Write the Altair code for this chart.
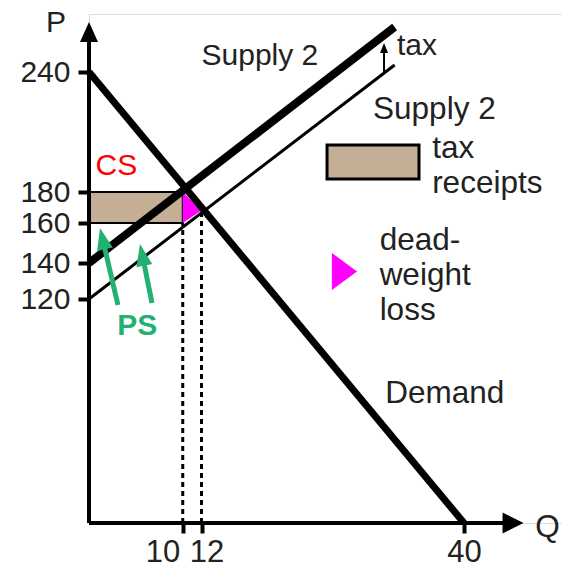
import altair as alt
import pandas as pd

# ---------------- data ----------------
demand_q = [0, 40]
demand_p = [240, 0]
supply_tax_q = [0, 32.6]          # "Supply 2" (with tax, thick)
supply_tax_p = [140, 262.5]
supply_q = [0, 32.6]              # original supply (thin)
supply_p = [120, 243.5]
receipts_q = [0, 10]
receipts_p = [160, 180]
dwl_q = [10, 12]
dwl_hi = [180, 168]
dwl_lo = [160, 168]
dotted_q = [10, 12]
dotted_p = [160, 168]
qty_ticks = [10, 12, 40]
price_ticks = [120, 140, 160, 180, 240]

TAN = "#c4ae95"
MAGENTA = "#ff00ff"
GREEN = "#22b170"
TXT = "#222222"
FONT = "Liberation Sans"

xs = alt.Scale(domain=[0, 40], range=[0, 375], nice=False, zero=False)
ys = alt.Scale(domain=[0, 120, 140, 160, 180, 240],
               range=[509, 285, 249, 209, 178, 58], nice=False, zero=False)

xaxis = alt.Axis(values=qty_ticks, domain=False, grid=False, ticks=True, tickSize=10,
                 tickWidth=4, tickColor="black", labelFontSize=31, labelFont=FONT,
                 labelColor=TXT, labelPadding=4, labelOverlap=False, labelFlush=False,
                 labelAlign={"expr": "datum.value == 10 ? 'right' : 'center'"},
                 labelOffset={"expr": "datum.value == 10 ? -3 : datum.value == 12 ? 5 : 0"},
                 title=None)
yaxis = alt.Axis(values=price_ticks, domain=False, grid=False, ticks=True, tickSize=11,
                 tickWidth=4, tickColor="black", labelFontSize=30, labelFont=FONT,
                 labelColor=TXT, labelPadding=8, labelOverlap=False, labelFlush=False,
                 title=None)


def X(f):
    return alt.X(f, type="quantitative", scale=xs, axis=xaxis)


def Y(f):
    return alt.Y(f, type="quantitative", scale=ys, axis=yaxis)


# tax receipts rectangle
rect_df = pd.DataFrame({"q0": [receipts_q[0]], "q1": [receipts_q[1]],
                        "p0": [receipts_p[0]], "p1": [receipts_p[1]]})
rect = alt.Chart(rect_df).mark_rect(fill=TAN, stroke="black", strokeWidth=2).encode(
    x=X("q0"), x2=alt.X2("q1"), y=Y("p0"), y2=alt.Y2("p1"))

# dead-weight loss triangle
dwl_df = pd.DataFrame({"q": dwl_q, "hi": dwl_hi, "lo": dwl_lo})
dwl = alt.Chart(dwl_df).mark_area(color=MAGENTA, opacity=1).encode(
    x=X("q"), y=Y("hi"), y2=alt.Y2("lo"))

# dotted drop lines
dot_df = pd.DataFrame({"q": dotted_q, "p": dotted_p, "z": [0, 0]})
dots = alt.Chart(dot_df).mark_rule(color="black", strokeWidth=3, strokeDash=[5, 4]).encode(
    x=X("q"), y=Y("z"), y2=alt.Y2("p"))


def line(q, p, w):
    df = pd.DataFrame({"q": q, "p": p})
    return alt.Chart(df).mark_line(color="black", strokeWidth=w).encode(x=X("q"), y=Y("p"))


supply_line = line(supply_q, supply_p, 3)
supply_tax_line = line(supply_tax_q, supply_tax_p, 8)
demand_line = line(demand_q, demand_p, 7)

# axes lines with arrowheads
axis_df = pd.DataFrame({"q0": [0, 0], "q1": [0, 45.2], "p0": [0, 0], "p1": [258, 0]})
axis_lines = alt.Chart(axis_df).mark_rule(color="black", strokeWidth=4).encode(
    x=X("q0"), x2=alt.X2("q1"), y=Y("p0"), y2=alt.Y2("p1"))

up_head = "M 0 -1 L 0.9 1 L -0.9 1 Z"
right_head = "M 1 0 L -1 1 L -1 -1 Z"
yhead = alt.Chart(pd.DataFrame({"q": [0], "p": [260]})).mark_point(
    shape=up_head, size=400, filled=True, color="black", opacity=1).encode(x=X("q"), y=Y("p"))
xhead = alt.Chart(pd.DataFrame({"q": [45.23], "p": [0]})).mark_point(
    shape=right_head, size=441, filled=True, color="black", opacity=1).encode(x=X("q"), y=Y("p"))

# tax arrow between the two supply curves
tax_df = pd.DataFrame({"q": [31.47], "p0": [240], "p1": [250]})
tax_shaft = alt.Chart(tax_df).mark_rule(color="black", strokeWidth=2).encode(
    x=X("q"), y=Y("p0"), y2=alt.Y2("p1"))
tax_head = alt.Chart(pd.DataFrame({"q": [31.47], "p": [252]})).mark_point(
    shape="M 0 -1 L 0.8 1 L -0.8 1 Z", size=100, filled=True, color="black", opacity=1).encode(
    x=X("q"), y=Y("p"))

# legend items
leg_rect_df = pd.DataFrame({"q0": [25.39], "q1": [35.2], "p0": [186.5], "p1": [203.5]})
leg_rect = alt.Chart(leg_rect_df).mark_rect(fill=TAN, stroke="black", strokeWidth=3).encode(
    x=X("q0"), x2=alt.X2("q1"), y=Y("p0"), y2=alt.Y2("p1"))
leg_tri = alt.Chart(pd.DataFrame({"q": [27.25], "p": [135.3]})).mark_point(
    shape="M -0.68 -1 L 0.68 0 L -0.68 1 Z", size=1369, filled=True, color=MAGENTA,
    opacity=1).encode(x=X("q"), y=Y("p"))

# green PS arrows
ps_shaft_df = pd.DataFrame({"q0": [3.09, 6.72], "p0": [116.8, 117.9],
                            "q1": [1.66, 5.87], "p1": [147.75, 139.7]})
ps_shafts = alt.Chart(ps_shaft_df).mark_rule(color=GREEN, strokeWidth=5).encode(
    x=X("q0"), x2=alt.X2("q1"), y=Y("p0"), y2=alt.Y2("p1"))
ps_head_df = pd.DataFrame({"q": [1.44, 5.67], "p": [152.2, 144.1], "a": [347, 348.5]})
ps_heads = alt.Chart(ps_head_df).mark_point(
    shape="M 0 -1 L 0.73 1 L -0.73 1 Z", size=484, filled=True, color=GREEN, opacity=1).encode(
    x=X("q"), y=Y("p"), angle=alt.Angle("a:Q", scale=None))

# text annotations (31.5 px)
ann_text = ["Q", "Supply 2", "tax", "receipts", "dead-", "weight", "loss", "Demand"]
ann_q = [47.6, 30.3, 36.6, 36.6, 31.0, 31.0, 31.0, 31.6]
ann_p = [-7.5, 216.5, 197, 179.4, 146.5, 127.8, 108.75, 64.3]
ann_df = pd.DataFrame({"t": ann_text, "q": ann_q, "p": ann_p})
ann = alt.Chart(ann_df).mark_text(align="left", baseline="alphabetic", fontSize=31.5,
                                  font=FONT, color=TXT).encode(
    x=X("q"), y=Y("p"), text="t:N")

# text annotations (30 px)
ann2_text = ["P", "Supply 2", "tax"]
ann2_q = [-4.6, 12.0, 32.85]
ann2_p = [260, 243.5, 248.5]
ann2_df = pd.DataFrame({"t": ann2_text, "q": ann2_q, "p": ann2_p})
ann2 = alt.Chart(ann2_df).mark_text(align="left", baseline="alphabetic", fontSize=30,
                                    font=FONT, color=TXT).encode(
    x=X("q"), y=Y("p"), text="t:N")

cs = alt.Chart(pd.DataFrame({"t": ["CS"], "q": [0.7], "p": [188.5]})).mark_text(
    align="left", baseline="alphabetic", fontSize=30, font=FONT, color="#ff0000").encode(
    x=X("q"), y=Y("p"), text="t:N")
ps = alt.Chart(pd.DataFrame({"t": ["PS"], "q": [3.0], "p": [100.7]})).mark_text(
    align="left", baseline="alphabetic", fontSize=30, font=FONT, fontWeight="bold",
    color=GREEN).encode(x=X("q"), y=Y("p"), text="t:N")

chart = alt.layer(
    rect, dwl, dots, supply_line, supply_tax_line, demand_line,
    axis_lines, yhead, xhead, tax_shaft, tax_head, leg_rect, leg_tri,
    ps_shafts, ps_heads, ann, ann2, cs, ps
).properties(
    width=473, height=509,
    autosize=alt.AutoSizeParams(type="none"),
    padding={"left": 81, "top": 6, "right": 0, "bottom": 44},
).configure_view(stroke=None).configure(background="white")

chart.save("out.html", embed_options={"renderer": "svg", "actions": False})
